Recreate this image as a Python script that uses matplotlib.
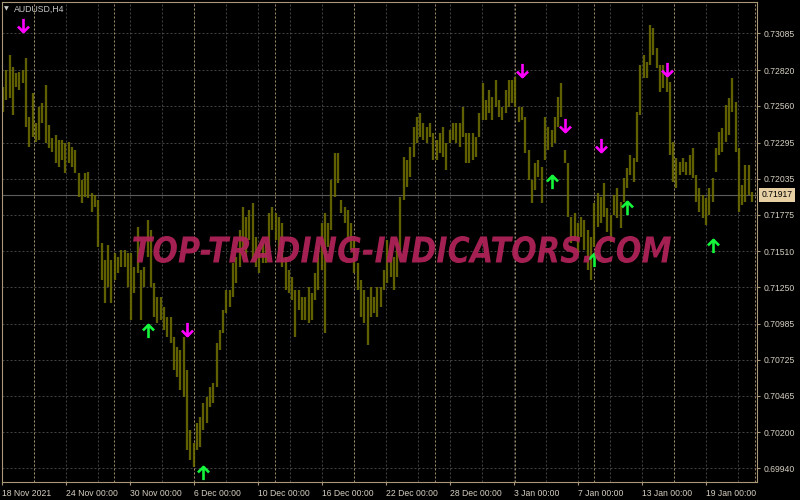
import matplotlib
matplotlib.use("Agg")
import matplotlib.pyplot as plt
from matplotlib.path import Path
from matplotlib.markers import MarkerStyle
from matplotlib.textpath import TextPath
from matplotlib.font_manager import FontProperties
from matplotlib.patches import PathPatch
from matplotlib.transforms import Affine2D, blended_transform_factory

# ---------------- data (AUDUSD H4) ----------------
highs = [0.72697, 0.72820, 0.72928, 0.72841, 0.72798, 0.72806, 0.72820, 0.72906, 0.72480, 0.72653,
         0.72436, 0.72552, 0.72581, 0.72712, 0.72422, 0.72328, 0.72350, 0.72314, 0.72314, 0.72292,
         0.72300, 0.72263, 0.72241, 0.72075, 0.72025, 0.72075, 0.72083, 0.71930, 0.71916, 0.71880,
         0.71569, 0.71446, 0.71555, 0.71446, 0.71496, 0.71467, 0.71518, 0.71518, 0.71496, 0.71496,
         0.71395, 0.71684, 0.71374, 0.71395, 0.71735, 0.71663, 0.71280, 0.71178, 0.71178, 0.71106,
         0.71034, 0.71034, 0.70889, 0.70817, 0.70795, 0.70889, 0.70651, 0.70217, 0.70123, 0.70267,
         0.70311, 0.70412, 0.70455, 0.70528, 0.70557, 0.70846, 0.70940, 0.71085, 0.71229, 0.71229,
         0.71424, 0.71467, 0.71663, 0.71829, 0.71757, 0.71808, 0.71858, 0.71612, 0.71518, 0.71569,
         0.71569, 0.71786, 0.71829, 0.71786, 0.71757, 0.71714, 0.71467, 0.71374, 0.71323, 0.71229,
         0.71229, 0.71178, 0.71178, 0.71251, 0.71207, 0.71352, 0.71540, 0.71714, 0.71786, 0.71714,
         0.72025, 0.72219, 0.72219, 0.71880, 0.71829, 0.71808, 0.71714, 0.71591, 0.71424, 0.71302,
         0.71229, 0.71178, 0.71251, 0.71178, 0.71251, 0.71251, 0.71374, 0.71591, 0.71518, 0.71467,
         0.71569, 0.71901, 0.72190, 0.72169, 0.72263, 0.72407, 0.72480, 0.72509, 0.72436, 0.72407,
         0.72436, 0.72364, 0.72314, 0.72364, 0.72407, 0.72292, 0.72386, 0.72436, 0.72436, 0.72436,
         0.72552, 0.72364, 0.72364, 0.72364, 0.72335, 0.72509, 0.72726, 0.72603, 0.72675, 0.72624,
         0.72748, 0.72603, 0.72552, 0.72675, 0.72748, 0.72748, 0.72769, 0.72552, 0.72552, 0.72480,
         0.72241, 0.72025, 0.72147, 0.72169, 0.72118, 0.72480, 0.72407, 0.72386, 0.72480, 0.72624,
         0.72726, 0.72241, 0.72147, 0.71757, 0.71786, 0.71714, 0.71757, 0.71735, 0.71663, 0.71612,
         0.71858, 0.71930, 0.71901, 0.72003, 0.71822, 0.71771, 0.71916, 0.71967, 0.71865, 0.72039,
         0.72111, 0.72205, 0.72184, 0.72516, 0.72856, 0.72928, 0.72878, 0.73145, 0.73124, 0.72979,
         0.72856, 0.72856, 0.72784, 0.72733, 0.72300, 0.72184, 0.72155, 0.72184, 0.72155, 0.72205,
         0.72256, 0.72061, 0.71967, 0.71916, 0.71894, 0.71967, 0.72039, 0.72256, 0.72371, 0.72400,
         0.72567, 0.72617, 0.72762, 0.72589, 0.72256, 0.71988, 0.72133, 0.72133, 0.71937]

lows = [0.72517, 0.72603, 0.72617, 0.72495, 0.72697, 0.72675, 0.72726, 0.72407, 0.72263, 0.72335,
        0.72300, 0.72314, 0.72436, 0.72292, 0.72256, 0.72227, 0.72147, 0.72118, 0.72169, 0.72075,
        0.72147, 0.72118, 0.72075, 0.71901, 0.71858, 0.71901, 0.71894, 0.71794, 0.71829, 0.71540,
        0.71302, 0.71135, 0.71251, 0.71135, 0.71302, 0.71352, 0.71395, 0.71395, 0.71251, 0.71012,
        0.71207, 0.71352, 0.71012, 0.71251, 0.71467, 0.71251, 0.71034, 0.70990, 0.71012, 0.70940,
        0.70889, 0.70846, 0.70651, 0.70600, 0.70506, 0.70455, 0.70072, 0.70000, 0.69949, 0.70072,
        0.70094, 0.70217, 0.70267, 0.70383, 0.70412, 0.70528, 0.70795, 0.70918, 0.71063, 0.71106,
        0.71178, 0.71280, 0.71395, 0.71518, 0.71467, 0.71591, 0.71446, 0.71395, 0.71352, 0.71424,
        0.71424, 0.71518, 0.71663, 0.71591, 0.71467, 0.71395, 0.71229, 0.71207, 0.71157, 0.70889,
        0.71085, 0.71012, 0.71012, 0.70990, 0.71012, 0.71157, 0.71229, 0.71374, 0.70918, 0.71540,
        0.71663, 0.71901, 0.72003, 0.71786, 0.71714, 0.71591, 0.71518, 0.71352, 0.71229, 0.71034,
        0.70990, 0.70832, 0.71034, 0.71063, 0.71034, 0.71106, 0.71229, 0.71280, 0.71323, 0.71229,
        0.71323, 0.71518, 0.71880, 0.71974, 0.72046, 0.72190, 0.72292, 0.72335, 0.72314, 0.72292,
        0.72335, 0.72169, 0.72169, 0.72219, 0.72190, 0.72097, 0.72292, 0.72314, 0.72292, 0.72263,
        0.72335, 0.72147, 0.72147, 0.72169, 0.72190, 0.72335, 0.72458, 0.72458, 0.72509, 0.72458,
        0.72552, 0.72480, 0.72458, 0.72509, 0.72552, 0.72581, 0.72552, 0.72444, 0.72458, 0.72219,
        0.72025, 0.71858, 0.71952, 0.72046, 0.71858, 0.72169, 0.72241, 0.72263, 0.72292, 0.72407,
        0.72480, 0.72147, 0.71757, 0.71569, 0.71591, 0.71496, 0.71612, 0.71518, 0.71374, 0.71302,
        0.71540, 0.71684, 0.71714, 0.71757, 0.71648, 0.71576, 0.71771, 0.71750, 0.71678, 0.71865,
        0.71967, 0.72061, 0.72010, 0.72155, 0.72495, 0.72762, 0.72762, 0.72856, 0.72928, 0.72834,
        0.72661, 0.72690, 0.72661, 0.72205, 0.72010, 0.71967, 0.72061, 0.72083, 0.72061, 0.72061,
        0.72039, 0.71865, 0.71794, 0.71750, 0.71699, 0.71771, 0.71865, 0.72083, 0.72205, 0.72227,
        0.72300, 0.72350, 0.72516, 0.72227, 0.71794, 0.71844, 0.71865, 0.71916, 0.71865]

# signal arrows: (bar index, price at arrow centre)
sell_bars = [6, 56, 158, 171, 182, 202]
sell_prices = [0.73145, 0.70947, 0.72820, 0.72422, 0.72277, 0.72827]
buy_bars = [44, 61, 167, 180, 190, 216]
buy_prices = [0.70933, 0.69906, 0.72010, 0.71446, 0.71822, 0.71547]

last_price = 0.71917
price_ticks = [0.73085, 0.72820, 0.72560, 0.72295, 0.72035, 0.71775, 0.71510,
               0.71250, 0.70985, 0.70725, 0.70465, 0.70200, 0.69940]
date_labels = ["18 Nov 2021", "24 Nov 00:00", "30 Nov 00:00", "6 Dec 00:00",
               "10 Dec 00:00", "16 Dec 00:00", "22 Dec 00:00", "28 Dec 00:00",
               "3 Jan 00:00", "7 Jan 00:00", "13 Jan 00:00", "19 Jan 00:00"]
symbol = "AUDUSD,H4"
watermark = "TOP-TRADING-INDICATORS.COM"

# ---------------- layout / style ----------------
W, H = 800, 500
PX = 3.285                       # pixels per bar
FG = "#a89878"                   # frame colour
TXT = "#d6cfc0"
plt.rcParams["font.family"] = ["Liberation Sans", "DejaVu Sans"]

fig = plt.figure(figsize=(W / 100, H / 100), dpi=100, facecolor="black")
ax = fig.add_axes([2 / W, 18 / H, 755 / W, 480 / H], facecolor="black")

n = len(highs)
xs = list(range(n))
x_left = -1 / PX
x_right = 754 / PX
ax.set_xlim(x_left, x_right)
ax.set_ylim(0.69841, 0.73312)

# grid
for p in price_ticks:
    ax.axhline(p, color="#434343", lw=0.72, ls=(0, (2, 2)), zorder=0)
k = 0
while x_left + k * 32 / PX < x_right:
    ax.axvline(x_left + k * 32 / PX, color="#434343", lw=0.72, ls=(0, (2, 2)), zorder=0)
    k += 1
# weekly period separators
k = 0
while (34.5 - 3) / PX + k * 80 / PX < x_right:
    ax.axvline((34.5 - 3) / PX + k * 80 / PX, color="#a08a66", lw=0.72,
               ls=(0, (2, 2)), zorder=0.5)
    k += 1

# last price line
ax.axhline(last_price, color="#5c5c5c", lw=0.8, zorder=0.6)

# bars
ax.vlines(xs, lows, highs, colors="#727200", linewidth=1.65, alpha=0.85, zorder=1)

# watermark text (scaled path)
fp = FontProperties(family="DejaVu Sans", weight="bold", style="italic")
tp = TextPath((0, 0), watermark, size=40, prop=fp)
ext = tp.get_extents()
tx0, ty0, tx1, ty1 = 133, H - 263, 671, H - 236
tr = (Affine2D().translate(-ext.x0, -ext.y0)
      .scale((tx1 - tx0) / ext.width, (ty1 - ty0) / ext.height)
      .translate(tx0, ty0))
fig.patches.append(PathPatch(tr.transform_path(tp), facecolor="#b2235a",
                             edgecolor="none", alpha=0.93, transform=None,
                             figure=fig, zorder=5))

# arrows
down = Path([(0, 0.5), (0, -0.5), (-0.42, -0.08), (0, -0.5), (0.42, -0.08)],
            [Path.MOVETO, Path.LINETO, Path.MOVETO, Path.LINETO, Path.LINETO])
up = Path([(0, -0.5), (0, 0.5), (-0.42, 0.08), (0, 0.5), (0.42, 0.08)],
          [Path.MOVETO, Path.LINETO, Path.MOVETO, Path.LINETO, Path.LINETO])
ax.plot(sell_bars, sell_prices, ls="none",
        marker=MarkerStyle(down, joinstyle="miter", capstyle="butt"),
        markersize=9.5, mew=1.9, mec="#ff00ff", mfc="none", zorder=6)
ax.plot(buy_bars, buy_prices, ls="none",
        marker=MarkerStyle(up, joinstyle="miter", capstyle="butt"),
        markersize=9.5, mew=1.9, mec="#14f53c", mfc="none", zorder=6)

# axes / ticks
for s in ax.spines.values():
    s.set_color(FG)
    s.set_linewidth(0.8)
ax.yaxis.tick_right()
ax.set_yticks(price_ticks)
ax.set_yticklabels([f"{p:.5f}" for p in price_ticks])
tick_pos = [x_left + k * 64 / PX for k in range(len(date_labels))]
ax.set_xticks(tick_pos)
ax.set_xticklabels(date_labels)
ax.tick_params(axis="both", colors=FG, labelcolor=TXT, labelsize=6.2,
               length=2.5, width=0.8, pad=2.5)
for lbl in ax.get_xticklabels():
    lbl.set_ha("left")

# last price label
bt = blended_transform_factory(ax.transAxes, ax.transData)
ax.text(1.006, last_price, f"{last_price:.5f}", transform=bt, ha="left", va="center",
        fontsize=6.2, color="black", zorder=7, clip_on=False,
        bbox=dict(boxstyle="square,pad=0.25", facecolor="#e6d0a4", edgecolor="none"))

# symbol caption
fig.text(6.5 / W, 1 - 9 / H, "\u25bc", fontsize=4.5, color="#c8c8c8",
         ha="center", va="center", family="DejaVu Sans")
fig.text(14 / W, 1 - 9 / H, symbol, fontsize=6.3, color="#c8c8c8",
         ha="left", va="center")

fig.savefig("out.png", dpi=100, facecolor="black")
